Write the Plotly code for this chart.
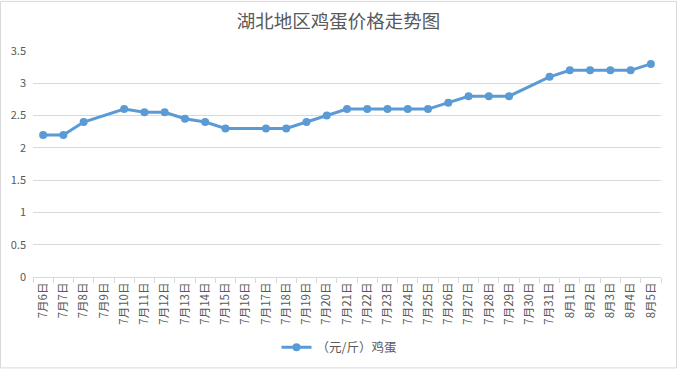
import plotly.graph_objects as go

dates = ["7月6日", "7月7日", "7月8日", "7月9日", "7月10日", "7月11日", "7月12日", "7月13日",
         "7月14日", "7月15日", "7月16日", "7月17日", "7月18日", "7月19日", "7月20日", "7月21日",
         "7月22日", "7月23日", "7月24日", "7月25日", "7月26日", "7月27日", "7月28日", "7月29日",
         "7月30日", "7月31日", "8月1日", "8月2日", "8月3日", "8月4日", "8月5日"]
prices = [2.2, 2.2, 2.4, None, 2.6, 2.55, 2.55, 2.45,
          2.4, 2.3, None, 2.3, 2.3, 2.4, 2.5, 2.6,
          2.6, 2.6, 2.6, 2.6, 2.7, 2.8, 2.8, 2.8,
          None, 3.1, 3.2, 3.2, 3.2, 3.2, 3.3]
series_name = "（元/斤）鸡蛋"
title_text = "湖北地区鸡蛋价格走势图"

W, H = 677, 375
ml, mr, mt, mb = 33, 16, 51, 94
PW, PH = W - ml - mr, H - mt - mb

fig = go.Figure()
fig.add_trace(go.Scatter(
    x=dates, y=prices, name=series_name, mode="lines+markers",
    connectgaps=True,
    line=dict(color="#5B9BD5", width=3),
    marker=dict(color="#5B9BD5", size=8),
    showlegend=True,
))

font_family = "Noto Sans CJK SC, Microsoft YaHei, sans-serif"
fig.update_layout(
    width=W, height=H,
    margin=dict(l=ml, r=mr, t=mt, b=mb),
    paper_bgcolor="white", plot_bgcolor="white",
    font=dict(family=font_family, color="#595959", size=11),
    title=dict(text=title_text, x=0.5, xanchor="center", y=1 - 22 / H, yanchor="middle",
               font=dict(size=18.5, color="#595959", family=font_family)),
    xaxis=dict(
        type="category", tickangle=-90, tickson="boundaries",
        ticks="outside", ticklen=5, tickcolor="#D9D9D9",
        showline=True, linecolor="#D9D9D9", linewidth=1,
        showgrid=False, tickfont=dict(size=11.5, color="#595959"),
        range=[-0.5, len(dates) - 0.5], automargin=False,
    ),
    yaxis=dict(
        range=[0, 3.5], dtick=0.5, showgrid=True, gridcolor="#D9D9D9", gridwidth=1,
        zeroline=False, showline=False, tickfont=dict(size=11, color="#595959"),
        ticks="", ticklabelstandoff=6, automargin=False,
    ),
    legend=dict(orientation="h", x=0.5 - 8 / PW, xanchor="center", y=-72 / PH, yanchor="middle",
                font=dict(size=12.5, color="#595959")),
    shapes=[dict(type="rect", xref="paper", yref="paper",
                 x0=-(ml - 0.5) / PW, x1=1 + (mr - 0.5) / PW,
                 y0=-(mb - 1.5) / PH, y1=1 + (mt - 0.5) / PH,
                 line=dict(color="#D9D9D9", width=1), layer="below")],
)

fig.write_html("out.html", config={"displayModeBar": False, "responsive": False},
               post_script="document.body.style.margin='0';document.body.style.overflow='hidden';")
